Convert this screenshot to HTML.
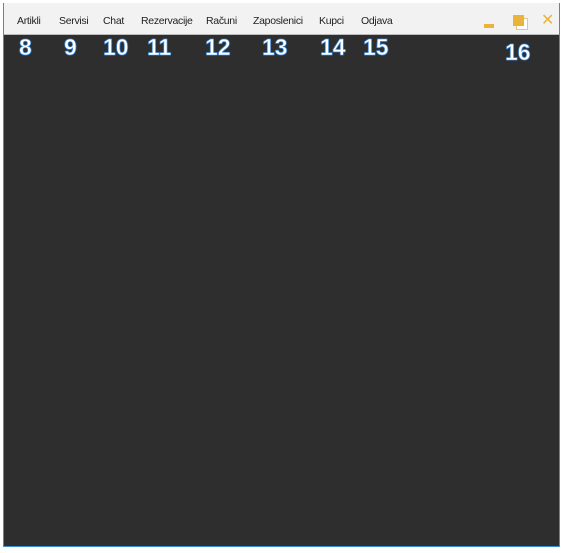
<!DOCTYPE html>
<html><head><style>
body{margin:0;width:562px;height:553px;background:#fff;position:relative;overflow:hidden;font-family:"Liberation Sans",sans-serif}
#win{position:absolute;left:3px;top:3px;width:555px;height:543px;border:1px solid #3c8ed6;border-top:none;background:#2e2e2e}
#menu{position:absolute;left:0;top:0;width:555px;height:31px;background:#f2f2f2;border-bottom:1px solid #bbb}
.m{position:absolute;top:12px;font-size:10.5px;letter-spacing:-0.3px;color:#222}
.n{position:absolute;top:34px;font-size:23px;font-weight:bold;color:#fff;-webkit-text-stroke:0.6px #3a8de0;text-shadow:0 0 1px #3a8de0,0 0 1px #3a8de0}
</style></head><body>
<div id="win">
<div id="menu">
<span class="m" style="left:13px">Artikli</span>
<span class="m" style="left:55px">Servisi</span>
<span class="m" style="left:99px">Chat</span>
<span class="m" style="left:137px">Rezervacije</span>
<span class="m" style="left:202px">Računi</span>
<span class="m" style="left:249px">Zaposlenici</span>
<span class="m" style="left:315px">Kupci</span>
<span class="m" style="left:357px">Odjava</span>
<div style="position:absolute;left:480px;top:21px;width:10px;height:4px;background:#e8b43c"></div>
<div style="position:absolute;left:512px;top:15px;width:10px;height:10px;border:1px solid #e8c87c;background:#fff"></div>
<div style="position:absolute;left:509px;top:12px;width:11px;height:11px;background:#e8b43c"></div>
<div style="position:absolute;left:537px;top:9px;font-size:16px;color:#e8b43c;line-height:1;font-family:'DejaVu Sans',sans-serif">✕</div>
</div>
</div>
<span class="n" style="left:19px">8</span>
<span class="n" style="left:64px">9</span>
<span class="n" style="left:103px">10</span>
<span class="n" style="left:147px">11</span>
<span class="n" style="left:205px">12</span>
<span class="n" style="left:262px">13</span>
<span class="n" style="left:320px">14</span>
<span class="n" style="left:363px">15</span>
<span class="n" style="left:505px;top:39px">16</span>
</body></html>
